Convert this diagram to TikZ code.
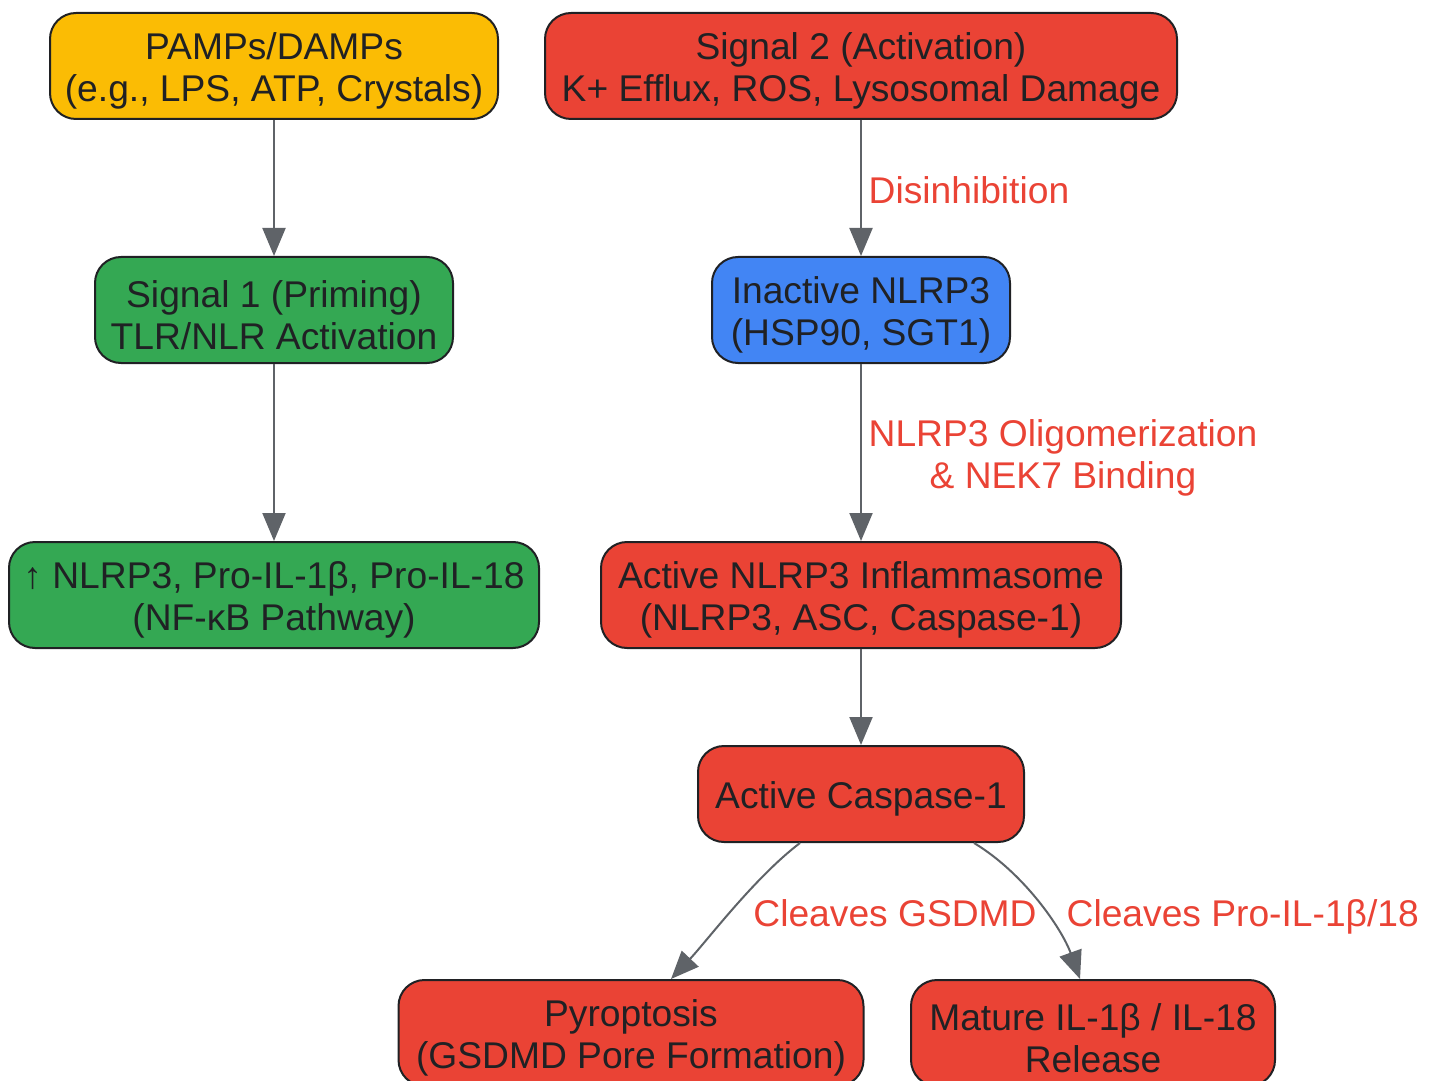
\documentclass[tikz,border=0pt]{standalone}
\usepackage{fontspec}
\setmainfont{Liberation Sans}
\usepackage{xcolor}
\usetikzlibrary{arrows.meta}

\definecolor{ink}{HTML}{202124}
\definecolor{edgegray}{HTML}{5F6368}
\definecolor{sigred}{HTML}{EA4335}
\definecolor{sigyellow}{HTML}{FBBC04}
\definecolor{siggreen}{HTML}{34A853}
\definecolor{sigblue}{HTML}{4285F4}

\begin{document}
\begin{tikzpicture}[x=0.5pt,y=-0.5pt,
	basebox/.style={draw=ink,line width=1pt,rounded corners=13pt,inner sep=0pt,
		align=center,text=ink,font=\fontsize{18.6}{21}\selectfont},
	box/.style={basebox,minimum height=53pt,execute at begin node={\rule{0pt}{39.6pt}}},
	onebox/.style={basebox,minimum height=48pt,execute at begin node={\rule{0pt}{18.6pt}}},
	edge/.style={draw=edgegray,line width=1pt,-{Triangle[length=14pt,width=11.5pt]}},
	lbl/.style={text=sigred,font=\fontsize{18.6}{21}\selectfont,align=center}]
	\useasboundingbox (0,0) rectangle (1438,1080);

	% priming branch
	\node[box,fill=sigyellow,minimum width=224pt] (pamps) at (274,66) {PAMPs/DAMPs\\(e.g., LPS, ATP, Crystals)};
	\node[box,fill=siggreen,minimum width=179pt] (sig1) at (274,310) {Signal 1 (Priming)\\TLR/NLR Activation};
	\node[box,fill=siggreen,minimum width=265pt] (upreg) at (274,595) {↑ NLRP3, Pro-IL-1β, Pro-IL-18\\(NF-κB Pathway)};

	% activation branch
	\node[box,fill=sigred,minimum width=316pt] (sig2) at (861,66) {Signal 2 (Activation)\\K+ Efflux, ROS, Lysosomal Damage};
	\node[box,fill=sigblue,minimum width=149pt] (inact) at (861,310) {Inactive NLRP3\\(HSP90, SGT1)};
	\node[box,fill=sigred,minimum width=260pt] (inflam) at (861,595) {Active NLRP3 Inflammasome\\(NLRP3, ASC, Caspase-1)};
	\node[onebox,fill=sigred,minimum width=163pt] (casp) at (861,794) {Active Caspase-1};
	\node[box,fill=sigred,minimum width=232.5pt] (pyro) at (631,1033) {Pyroptosis\\(GSDMD Pore Formation)};
	\node[box,fill=sigred,minimum width=182pt] (mature) at (1093,1033) {Mature IL-1β / IL-18\\Release};

	\draw[edge] (pamps) -- (sig1);
	\draw[edge] (sig1) -- (upreg);
	\draw[edge] (sig2) -- (inact) node[midway,right,lbl,yshift=-1pt] {Disinhibition};
	\draw[edge] (inact) -- (inflam) node[midway,right,lbl,yshift=-2.5pt] {NLRP3 Oligomerization\\\& NEK7 Binding};
	\draw[edge] (inflam) -- (casp);
	\draw[edge] ([xshift=-30.5pt]casp.south) .. controls +(-45,34) and +(35,-37) .. ([xshift=20pt]pyro.north)
		node[lbl,pos=0.5,anchor=west,xshift=7pt,yshift=-1.5pt] {Cleaves GSDMD};
	\draw[edge] ([xshift=56.5pt]casp.south) .. controls +(50,30) and +(-18,-50) .. ([xshift=-6.5pt]mature.north)
		node[lbl,pos=0.5,anchor=west,xshift=10pt,yshift=-6.5pt] {Cleaves Pro-IL-1β/18};
\end{tikzpicture}
\end{document}
